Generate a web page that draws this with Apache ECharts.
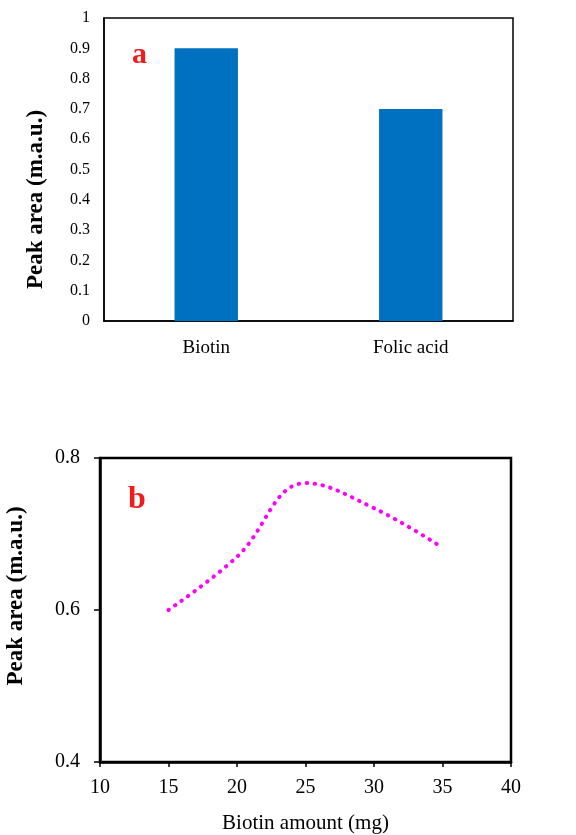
<!DOCTYPE html>
<html>
<head>
<meta charset="utf-8">
<script src="https://cdn.jsdelivr.net/npm/echarts@6/dist/echarts.min.js"></script>
<style>
html,body{margin:0;padding:0;background:#fff;}
#c{width:576px;height:835px;}
</style>
</head>
<body>
<div id="c"></div>
<script>
// Panel a
const categoriesA = ['Biotin', 'Folic acid'];
const valuesA = [0.9, 0.7];
// Panel b
const biotinAmount = [15, 20, 25, 30, 35];
const peakAreaB = [0.60, 0.67, 0.767, 0.734, 0.682];

const serif = '"Liberation Serif", "Times New Roman", serif';
const chart = echarts.init(document.getElementById('c'));
chart.setOption({
  backgroundColor: '#fff',
  animation: false,
  title: [
    {text: 'a', left: 127, top: 35, textStyle: {color: '#ee1c1c', fontFamily: serif, fontWeight: 'bold', fontSize: 30}},
    {text: 'b', left: 123, top: 479, textStyle: {color: '#ee1c1c', fontFamily: serif, fontWeight: 'bold', fontSize: 32}}
  ],
  grid: [
    {left: 104, top: 18, width: 409, height: 303, show: true, borderColor: '#000', borderWidth: 1.5, backgroundColor: 'transparent', outerBoundsMode: 'none', containLabel: false},
    {left: 100, top: 458, width: 411, height: 304, show: true, borderColor: '#000', borderWidth: 2.5, backgroundColor: 'transparent', outerBoundsMode: 'none', containLabel: false}
  ],
  xAxis: [
    {gridIndex: 0, type: 'category', data: categoriesA,
     axisLine: {lineStyle: {color: '#000', width: 1.5}}, axisTick: {show: false},
     axisLabel: {color: '#000', fontFamily: serif, fontSize: 19, margin: 18}},
    {gridIndex: 1, type: 'value', min: 10, max: 40, interval: 5,
     axisLine: {lineStyle: {color: '#000', width: 2.5}}, axisTick: {show: true, length: 5, lineStyle: {color: '#000', width: 1.5}},
     splitLine: {show: false},
     axisLabel: {color: '#000', fontFamily: serif, fontSize: 20, margin: 16},
     name: 'Biotin amount (mg)', nameLocation: 'middle', nameGap: 51,
     nameTextStyle: {color: '#000', fontFamily: serif, fontSize: 21}}
  ],
  yAxis: [
    {gridIndex: 0, type: 'value', min: 0, max: 1, interval: 0.1,
     axisLine: {show: true, lineStyle: {color: '#000', width: 1.5}}, axisTick: {show: false},
     splitLine: {show: false},
     axisLabel: {color: '#000', fontFamily: serif, fontSize: 16, margin: 14},
     name: 'Peak area (m.a.u.)', nameLocation: 'middle', nameGap: 56,
     nameTextStyle: {color: '#000', fontFamily: serif, fontSize: 23, fontWeight: 'bold', padding: [0, 60, 0, 0]}},
    {gridIndex: 1, type: 'value', min: 0.4, max: 0.8, interval: 0.2,
     axisLine: {show: true, lineStyle: {color: '#000', width: 2.5}}, axisTick: {show: true, length: 6, lineStyle: {color: '#000', width: 1.5}},
     splitLine: {show: false},
     axisLabel: {color: '#000', fontFamily: serif, fontSize: 20, margin: 20, formatter: v => v.toFixed(1)},
     name: 'Peak area (m.a.u.)', nameLocation: 'middle', nameGap: 72,
     nameTextStyle: {color: '#000', fontFamily: serif, fontSize: 23, fontWeight: 'bold', padding: [0, 0, 0, 28]}}
  ],
  series: [
    {type: 'bar', xAxisIndex: 0, yAxisIndex: 0, data: valuesA, barWidth: '31%',
     itemStyle: {color: '#0070C0'}},
    {type: 'line', xAxisIndex: 1, yAxisIndex: 1, smooth: 0.4, showSymbol: false,
     data: biotinAmount.map((x, i) => [x, peakAreaB[i]]),
     lineStyle: {color: '#ff00ff', width: 4, type: [0.5, 7.5], cap: 'round'}}
  ]
});
</script>
</body>
</html>
